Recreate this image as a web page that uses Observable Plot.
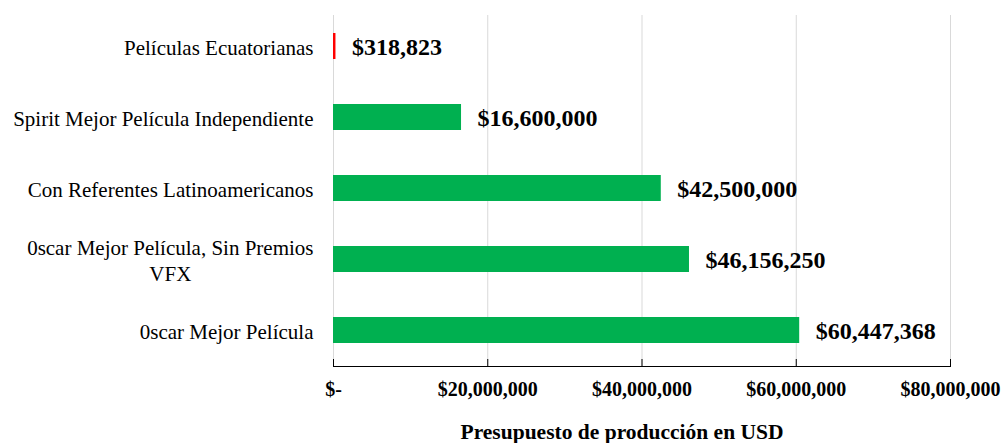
<!DOCTYPE html>
<html>
<head>
<meta charset="utf-8">
<script src="https://cdn.jsdelivr.net/npm/d3@7"></script>
<script src="https://cdn.jsdelivr.net/npm/@observablehq/plot@0.6"></script>
<style>
  html, body { margin: 0; padding: 0; background: #fff; }
  svg, svg text, svg tspan { font-family: 'Liberation Serif', 'Times New Roman', serif !important; }
</style>
</head>
<body>
<script>
const categories = [
  "Películas Ecuatorianas",
  "Spirit Mejor Película Independiente",
  "Con Referentes Latinoamericanos",
  "0scar Mejor Película, Sin Premios VFX",
  "0scar Mejor Película"
];
const values = [318823, 16600000, 42500000, 46156250, 60447368];
const barColors = ["#FF0000", "#00B050", "#00B050", "#00B050", "#00B050"];
const xTicks = [0, 20000000, 40000000, 60000000, 80000000];
const axisTitle = "Presupuesto de producción en USD";

const data = categories.map((c, i) => ({cat: c, value: values[i], color: barColors[i]}));
const money = d3.format("$,");
const tickFmt = d => d === 0 ? "$-" : money(d);
const catLabel = d => d === "0scar Mejor Película, Sin Premios VFX" ? "0scar Mejor Película, Sin Premios\nVFX" : d;
const serif = "'Liberation Serif', 'Times New Roman', serif";

const H = 443, MT = 10.5, MB = 77;
const frameH = H - MT - MB;

const chart = Plot.plot({
  width: 1006,
  height: H,
  marginTop: MT,
  marginBottom: MB,
  marginLeft: 333,
  marginRight: 56,
  style: {fontFamily: serif, color: "#000", background: "#fff"},
  x: {domain: [0, 80000000], ticks: xTicks},
  y: {domain: categories, paddingInner: 0.64, paddingOuter: 0.32},
  marks: [
    Plot.ruleX(xTicks, {stroke: "#D9D9D9", strokeWidth: 1, insetTop: 4.5}),
    Plot.barX(data, {x: "value", y: "cat", fill: "color"}),
    Plot.ruleX(xTicks, {stroke: "#000", strokeWidth: 1, insetTop: frameH - 7}),
    Plot.frame({anchor: "bottom", stroke: "#000", strokeWidth: 1}),
    Plot.axisX({ticks: xTicks, tickFormat: tickFmt, tickSize: 0, tickPadding: 15.5, fontFamily: serif, fontSize: 20, fontWeight: "bold", label: null}),
    Plot.axisY({tickSize: 0, tickPadding: 20, tickFormat: catLabel, fontFamily: serif, fontSize: 21, lineHeight: 1.22, label: null}),
    Plot.text(data, {x: "value", y: "cat", text: d => money(d.value), textAnchor: "start", dx: 16, dy: 1, fontFamily: serif, fontSize: 24, fontWeight: "bold", fill: "#000"}),
    Plot.text([axisTitle], {frameAnchor: "bottom", dy: 66, dx: -20, lineAnchor: "middle", fontFamily: serif, fontSize: 21.5, fontWeight: "bold", fill: "#000"})
  ]
});
document.body.append(chart);

chart.querySelectorAll("g[aria-label='y-axis tick label'] text").forEach(t => {
  const sp = t.querySelectorAll("tspan");
  if (sp.length > 1) {
    const w = sp[0].getComputedTextLength();
    t.setAttribute("text-anchor", "middle");
    sp.forEach(s => s.setAttribute("x", -w / 2));
  }
});
</script>
</body>
</html>
